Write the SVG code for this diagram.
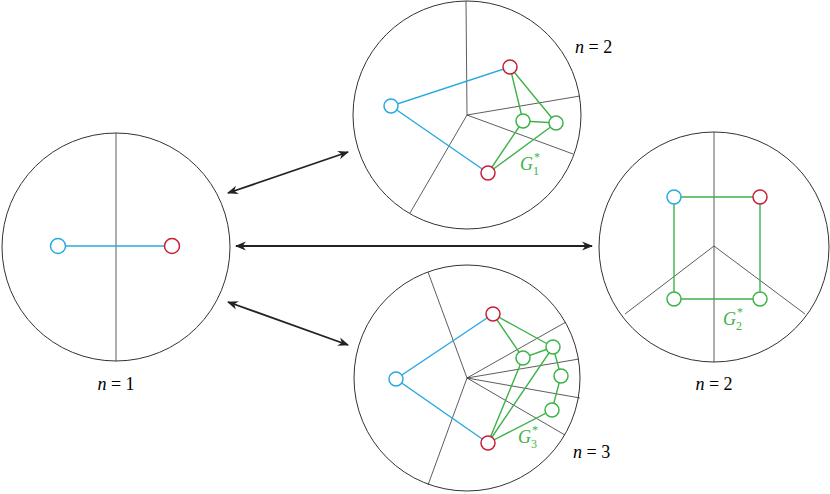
<svg xmlns="http://www.w3.org/2000/svg" width="830" height="494" viewBox="0 0 830 494">
<style>
.disk{fill:none;stroke:#333;stroke-width:1}
.sp{stroke:#333;stroke-width:0.8;fill:none}
.b{stroke:#29aae1;stroke-width:1.4;fill:none}
.g{stroke:#3db34a;stroke-width:1.4;fill:none}
.nb{fill:#fff;stroke:#29aae1;stroke-width:1.5}
.nr{fill:#fff;stroke:#c81e37;stroke-width:1.5}
.ng{fill:#fff;stroke:#3db34a;stroke-width:1.5}
.t{font-family:"Liberation Serif","Times New Roman","DejaVu Serif",serif;font-size:18px;fill:#000}
.tg{font-family:"Liberation Serif","Times New Roman","DejaVu Serif",serif;font-size:18px;font-style:italic;fill:#3db34a}
.ts{font-family:"Liberation Serif","Times New Roman","DejaVu Serif",serif;font-size:12px;fill:#3db34a}
.ar{stroke:#222;stroke-width:1.8;fill:none;marker-start:url(#h);marker-end:url(#h)}
</style>
<defs>
<marker id="h" viewBox="0 0 10 10" refX="9" refY="5" markerWidth="11" markerHeight="11" orient="auto-start-reverse" markerUnits="userSpaceOnUse"><path d="M0,1 L10,5 L0,9 L3,5 z" fill="#222"/></marker>
</defs>
<g id="connectors">
<line class="ar" x1="228" y1="193" x2="348" y2="152"/>
<line class="ar" x1="236" y1="246" x2="592" y2="246"/>
<line class="ar" x1="228" y1="302" x2="348" y2="345"/>
</g>
<g id="disk1">
<circle class="disk" cx="116" cy="247" r="114"/>
<line class="sp" x1="116" y1="133" x2="116" y2="361"/>
<line class="b" x1="58" y1="246" x2="172" y2="246"/>
<circle class="nb" cx="58" cy="246" r="7.5"/>
<circle class="nr" cx="172" cy="246" r="7.5"/>
<text class="t" x="116" y="390" text-anchor="middle"><tspan font-style="italic">n</tspan> = 1</text>
</g>
<g id="disk2">
<circle class="disk" cx="467" cy="115" r="114"/>
<path class="sp" d="M466,1 L467,115 L580,96 M467,115 L573,154 M467,115 L410,213"/>
<path class="b" d="M510,67 L391,106 L488,173"/>
<path class="g" d="M510,67 L523,121 L556,123 L510,67 M523,121 L488,173 L556,123"/>
<circle class="nr" cx="510" cy="67" r="7"/>
<circle class="nb" cx="391" cy="106" r="7"/>
<circle class="ng" cx="523" cy="121" r="7"/>
<circle class="ng" cx="556" cy="123" r="7"/>
<circle class="nr" cx="488" cy="173" r="7"/>
<text class="tg" x="520" y="170">G</text><text class="ts" x="534" y="161">*</text><text class="ts" x="533" y="175">1</text>
<text class="t" x="575" y="53"><tspan font-style="italic">n</tspan> = 2</text>
</g>
<g id="disk3">
<circle class="disk" cx="467" cy="378" r="113"/>
<path class="sp" d="M428,272 L467,378 L566,322 M467,378 L579,359 M467,378 L580,398 M467,378 L565,435 M467,378 L428,485"/>
<path class="b" d="M493,314 L396,379 L488,443"/>
<path class="g" d="M493,314 L523,358 L553,347 L493,314 M523,358 L488,443 L553,347 L561,376 L552,410 L488,443"/>
<circle class="nr" cx="493" cy="314" r="7"/>
<circle class="nb" cx="396" cy="379" r="7"/>
<circle class="nr" cx="488" cy="443" r="7"/>
<circle class="ng" cx="523" cy="358" r="7"/>
<circle class="ng" cx="553" cy="347" r="7"/>
<circle class="ng" cx="561" cy="376" r="7"/>
<circle class="ng" cx="552" cy="410" r="7"/>
<text class="tg" x="518" y="443">G</text><text class="ts" x="532" y="434">*</text><text class="ts" x="531" y="448">3</text>
<text class="t" x="573" y="458"><tspan font-style="italic">n</tspan> = 3</text>
</g>
<g id="disk4">
<circle class="disk" cx="714" cy="247" r="115"/>
<path class="sp" d="M714,132 L714,362 M714,246 L625,314 M714,246 L805,314"/>
<path class="g" d="M674,197 L760,197 L760,299 L674,299 Z"/>
<circle class="nb" cx="674" cy="197" r="7"/>
<circle class="nr" cx="760" cy="197" r="7"/>
<circle class="ng" cx="674" cy="299" r="7"/>
<circle class="ng" cx="760" cy="299" r="7"/>
<text class="tg" x="723" y="325">G</text><text class="ts" x="737" y="316">*</text><text class="ts" x="736" y="330">2</text>
<text class="t" x="714" y="390" text-anchor="middle"><tspan font-style="italic">n</tspan> = 2</text>
</g>
</svg>
